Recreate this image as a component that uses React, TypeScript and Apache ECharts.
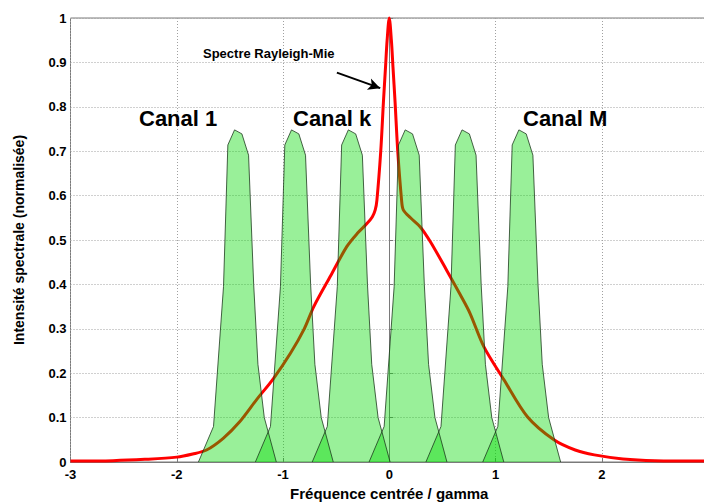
import React, { useEffect, useRef } from "react";
import * as echarts from "echarts";

// Rayleigh-Mie spectrum (red curve)
const spectrumX = [
  -3, -2.6, -2.3, -2.0, -1.85, -1.72, -1.56, -1.41, -1.25, -1.09, -0.93, -0.8,
  -0.71, -0.55, -0.4, -0.3, -0.21, -0.16, -0.132, -0.116, -0.08, -0.055, -0.035,
  -0.02, 0, 0.02, 0.035, 0.055, 0.08, 0.116, 0.132, 0.2, 0.29, 0.39, 0.54, 0.67,
  0.76, 0.89, 1.08, 1.3, 1.55, 1.75, 1.93, 2.2, 2.5, 3,
];
const spectrumY = [
  0.002, 0.003, 0.006, 0.011, 0.018, 0.027, 0.054, 0.09, 0.14, 0.188, 0.245, 0.3,
  0.35, 0.42, 0.485, 0.515, 0.537, 0.552, 0.568, 0.59, 0.7, 0.81, 0.89, 0.95, 1.0,
  0.95, 0.89, 0.81, 0.7, 0.59, 0.568, 0.55, 0.53, 0.495, 0.432, 0.376, 0.335, 0.26,
  0.185, 0.102, 0.05, 0.027, 0.016, 0.007, 0.003, 0.002,
];

// Channel filters (green): centre positions and the common sampled profile
const channelCentres = [-1.456, -0.92, -0.385, 0.15, 0.685, 1.22];
const channelProfileDx = [-0.34, -0.198, -0.104, -0.063, 0, 0.069, 0.132, 0.18, 0.22, 0.28, 0.393];
const channelProfileY = [0, 0.08, 0.395, 0.714, 0.748, 0.739, 0.691, 0.4, 0.22, 0.1, 0];

const channelLabels = ["Canal 1", "Canal k", "Canal M"];
const annotationText = "Spectre Rayleigh-Mie";
const arrowFrom = [-0.493, 0.877];
const arrowTo = [-0.085, 0.842];

const xAxisTitle = "Fréquence centrée / gamma";
const yAxisTitle = "Intensité spectrale (normalisée)";

const FONT = "'Liberation Sans', Arial, Helvetica, sans-serif";

export default function App() {
  const ref = useRef<HTMLDivElement>(null);

  useEffect(() => {
    if (!ref.current) return;
    const chart = echarts.init(ref.current, undefined, { renderer: "svg" });

    const redData = spectrumX.map((x, i) => [x, spectrumY[i]]);

    const channelSeries = channelCentres.map((c, k) => ({
      type: "line",
      name: "canal" + (k + 1),
      data: channelProfileDx.map((dx, i) => [c + dx, channelProfileY[i]]),
      symbol: "none",
      smooth: false,
      z: 3,
      lineStyle: { color: "#1d3a1d", width: 0.8 },
      areaStyle: { color: "rgba(0,218,0,0.4)", opacity: 1 },
      silent: true,
    }));

    const labelPos = [
      { x: 139, y: 118, text: channelLabels[0] },
      { x: 293, y: 118, text: channelLabels[1] },
      { x: 523, y: 118, text: channelLabels[2] },
    ];

    chart.setOption({
      animation: false,
      backgroundColor: "#ffffff",
      grid: {
        left: 70.5,
        right: -4,
        top: 18,
        bottom: 40,
        containLabel: false,
        outerBoundsMode: "none",
        show: true,
        borderColor: "#7a7a7a",
        borderWidth: 1,
      },
      xAxis: {
        type: "value",
        min: -3,
        max: 3,
        interval: 1,
        name: xAxisTitle,
        nameLocation: "middle",
        nameGap: 24,
        nameTextStyle: { fontFamily: FONT, fontWeight: "bold", fontSize: 15, color: "#000" },
        axisLine: { show: true, onZero: false, lineStyle: { color: "#7a7a7a", width: 1 } },
        axisTick: { show: true, inside: true, length: 4, lineStyle: { color: "#7a7a7a" } },
        axisLabel: {
          fontFamily: FONT,
          fontWeight: "bold",
          fontSize: 13,
          color: "#000",
          margin: 6,
          showMaxLabel: false,
        },
        splitLine: { show: true, lineStyle: { color: "#a0a0a0", type: [1, 2], width: 1 } },
      },
      yAxis: {
        type: "value",
        min: 0,
        max: 1,
        interval: 0.1,
        name: yAxisTitle,
        nameLocation: "middle",
        nameGap: 45,
        nameRotate: 90,
        nameTextStyle: { fontFamily: FONT, fontWeight: "bold", fontSize: 14, color: "#000" },
        axisLine: { show: true, lineStyle: { color: "#7a7a7a", width: 1 } },
        axisTick: { show: true, inside: true, length: 4, lineStyle: { color: "#7a7a7a" } },
        axisLabel: { fontFamily: FONT, fontWeight: "bold", fontSize: 13, color: "#000", margin: 4 },
        splitLine: { show: true, lineStyle: { color: "#a0a0a0", type: [1, 2], width: 1 } },
      },
      series: [
        {
          type: "line",
          name: "spectre",
          data: redData,
          symbol: "none",
          smooth: 0.3,
          clip: false,
          z: 2,
          lineStyle: { color: "#ff0000", width: 3 },
          silent: true,
          markLine: {
            silent: true,
            symbol: ["none", "arrow"],
            symbolSize: [9, 12],
            label: { show: false },
            lineStyle: { color: "#000", width: 2, type: "solid" },
            data: [[{ coord: arrowFrom }, { coord: arrowTo }]],
          },
        },
        ...channelSeries,
      ],
      graphic: [
        {
          type: "text",
          x: 203,
          y: 53,
          z: 10,
          style: {
            text: annotationText,
            fontFamily: FONT,
            fontWeight: "bold",
            fontSize: 13,
            fill: "#000",
            align: "left",
            verticalAlign: "middle",
          },
        },
        ...labelPos.map((p) => ({
          type: "text",
          x: p.x,
          y: p.y,
          z: 10,
          style: {
            text: p.text,
            fontFamily: FONT,
            fontWeight: "bold",
            fontSize: 22,
            fill: "#000",
            align: "left",
            verticalAlign: "middle",
          },
        })),
      ],
    });

    return () => {
      chart.dispose();
    };
  }, []);

  return (
    <div
      ref={ref}
      style={{ position: "fixed", left: 0, top: 0, width: 704, height: 502, background: "#fff" }}
    />
  );
}
